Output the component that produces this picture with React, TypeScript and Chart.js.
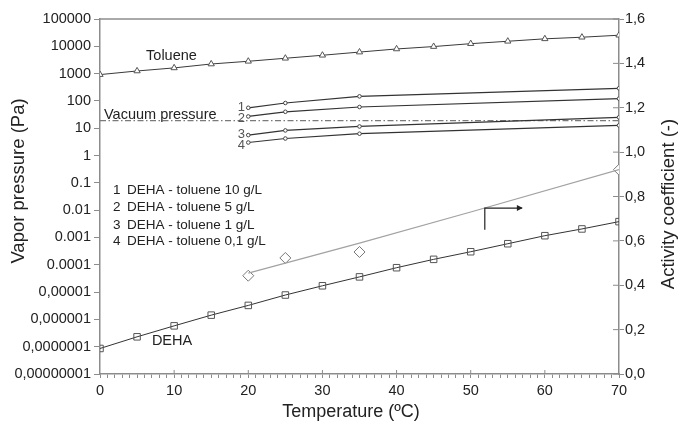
import { useEffect, useRef } from "react";
import { Chart, registerables } from "chart.js";

Chart.register(...registerables);

// ---- data ----
const temps = [0, 5, 10, 15, 20, 25, 30, 35, 40, 45, 50, 55, 60, 65, 70];
const toluenePa = [920, 1250, 1620, 2250, 2830, 3650, 4700, 6150, 8000, 9800, 12500, 15300, 18800, 21500, 25500];
const dehaPa = [8.6e-8, 2.3e-7, 5.8e-7, 1.43e-6, 3.25e-6, 7.8e-6, 1.7e-5, 3.6e-5, 7.8e-5, 1.58e-4, 3.0e-4, 5.9e-4, 1.16e-3, 2.05e-3, 3.8e-3];

const solTemps = [20, 25, 35, 70];
const sol10 = [56, 84, 147, 290];
const sol5 = [27, 40, 60, 121];
const sol1 = [5.6, 8.3, 11.6, 25];
const sol01 = [3.0, 4.2, 6.3, 12.7];

const vacuumTemps = [0, 70];
const vacuumPa = [19, 19];

const gammaTemps = [20, 25, 35, 70];
const gammaDeha = [0.443, 0.523, 0.55, 0.921];
const gammaFitTemps = [20, 35, 50, 70];
const gammaFit = [0.455, 0.59, 0.73, 0.921];

const arrowTemps = [51.9, 51.9, 56.9];
const arrowGamma = [0.65, 0.748, 0.748];

const xTickValues = Array.from({ length: 71 }, (_, i) => i);
const yTickValues = [1e-8, 1e-7, 1e-6, 1e-5, 1e-4, 1e-3, 1e-2, 1e-1, 1, 10, 100, 1000, 10000, 100000];
const yTickLabels = [
  "0,00000001", "0,0000001", "0,000001", "0,00001", "0.0001", "0.001", "0.01", "0.1",
  "1", "10", "100", "1000", "10000", "100000",
];
const y1TickValues = [0, 0.2, 0.4, 0.6, 0.8, 1.0, 1.2, 1.4, 1.6];
const y1TickLabels = ["0,0", "0,2", "0,4", "0,6", "0,8", "1,0", "1,2", "1,4", "1,6"];

const legendNums = ["1", "2", "3", "4"];
const legendTexts = ["DEHA - toluene 10 g/L", "DEHA - toluene 5 g/L", "DEHA - toluene 1 g/L", "DEHA - toluene 0,1 g/L"];
const legendY = [0.0553, 0.0128, 0.00288, 0.000702];
const curveNumY = [60, 22.3, 5.8, 2.34];

const FONT = "'Liberation Sans', Arial, sans-serif";
const AXIS = "#8c8c8c";
const TEXT = "#222";

const pts = (xs: number[], ys: number[]) => xs.map((x, i) => ({ x, y: ys[i] }));

const decorPlugin = {
  id: "decor",
  afterDraw(chart: any) {
    const ctx = chart.ctx as CanvasRenderingContext2D;
    const { left, right, top, bottom } = chart.chartArea;
    const xs = chart.scales.x;
    const ys = chart.scales.y;
    const y1 = chart.scales.y1;
    ctx.save();
    // top border
    ctx.strokeStyle = AXIS;
    ctx.lineWidth = 1.5;
    ctx.beginPath();
    ctx.moveTo(left, top);
    ctx.lineTo(right, top);
    ctx.stroke();
    // inner parts of major ticks
    ctx.lineWidth = 1;
    ctx.beginPath();
    for (let v = 10; v < 70; v += 10) {
      const px = xs.getPixelForValue(v);
      ctx.moveTo(px, bottom);
      ctx.lineTo(px, bottom - 4);
    }
    for (const v of y1TickValues) {
      const py = y1.getPixelForValue(v);
      ctx.moveTo(right, py);
      ctx.lineTo(right - 6, py);
    }
    ctx.stroke();

    // arrow head
    const n = arrowTemps.length - 1;
    const ax = xs.getPixelForValue(arrowTemps[n]);
    const ay = y1.getPixelForValue(arrowGamma[n]);
    ctx.fillStyle = "#222";
    ctx.beginPath();
    ctx.moveTo(ax + 1, ay);
    ctx.lineTo(ax - 5, ay - 3);
    ctx.lineTo(ax - 5, ay + 3);
    ctx.closePath();
    ctx.fill();

    // annotations
    ctx.fillStyle = TEXT;
    ctx.textBaseline = "middle";
    ctx.font = `14.5px ${FONT}`;
    ctx.textAlign = "center";
    ctx.fillText("Toluene", xs.getPixelForValue(9.64), ys.getPixelForValue(4300));
    ctx.textAlign = "left";
    ctx.fillText("Vacuum pressure", xs.getPixelForValue(0.54), ys.getPixelForValue(31));
    ctx.fillText("DEHA", xs.getPixelForValue(7.0), ys.getPixelForValue(1.63e-7));

    ctx.font = `13.5px ${FONT}`;
    legendNums.forEach((num, i) => {
      const py = ys.getPixelForValue(legendY[i]);
      ctx.fillText(num, xs.getPixelForValue(1.75), py);
      ctx.fillText(legendTexts[i], xs.getPixelForValue(3.64), py);
    });

    ctx.fillStyle = "#555";
    ctx.font = `13px ${FONT}`;
    ctx.textAlign = "right";
    legendNums.forEach((num, i) => {
      ctx.fillText(num, xs.getPixelForValue(19.56), ys.getPixelForValue(curveNumY[i]));
    });

    // axis titles
    ctx.fillStyle = TEXT;
    ctx.textAlign = "center";
    ctx.font = `18px ${FONT}`;
    ctx.fillText("Temperature (ºC)", 351, 412);
    ctx.font = `18.5px ${FONT}`;
    ctx.save();
    ctx.translate(19, 181);
    ctx.rotate(-Math.PI / 2);
    ctx.fillText("Vapor pressure (Pa)", 0, 0);
    ctx.restore();
    ctx.save();
    ctx.translate(669, 204);
    ctx.rotate(-Math.PI / 2);
    ctx.fillText("Activity coefficient (-)", 0, 0);
    ctx.restore();

    ctx.restore();
  },
};

export default function App() {
  const ref = useRef<HTMLCanvasElement>(null);

  useEffect(() => {
    const tickFont = { family: FONT, size: 14.5 };
    const line = (data: any, color: string, width: number, extra: any = {}) => ({
      data,
      showLine: true,
      borderColor: color,
      borderWidth: width,
      tension: 0,
      pointRadius: 0,
      yAxisID: "y",
      ...extra,
    });
    const chart = new Chart(ref.current!, {
      type: "scatter",
      data: {
        datasets: [
          line(pts(arrowTemps, arrowGamma), "#222", 1.2, { yAxisID: "y1" }),
          line(pts(temps, toluenePa), "#3a3a3a", 1, {
            pointRadius: 3.6,
            pointStyle: "triangle",
            pointBorderColor: "#555",
            pointBackgroundColor: "#fff",
            pointBorderWidth: 1,
          }),
          ...[sol10, sol5, sol1, sol01].map((s) =>
            line(pts(solTemps, s), "#333", 1.2, {
              pointRadius: 1.8,
              pointStyle: "circle",
              pointBorderColor: "#444",
              pointBackgroundColor: "#fff",
              pointBorderWidth: 1,
            })
          ),
          line(pts(vacuumTemps, vacuumPa), "#7a7a7a", 1.3, { borderDash: [6, 2.5, 1.5, 2.5] }),
          line(pts(temps, dehaPa), "#333", 1, {
            pointRadius: 4.6,
            pointStyle: "rect",
            pointBorderColor: "#555",
            pointBackgroundColor: "rgba(255,255,255,0)",
            pointBorderWidth: 1,
          }),
          line(pts(gammaFitTemps, gammaFit), "#a2a2a2", 1.2, { yAxisID: "y1" }),
          {
            data: pts(gammaTemps, gammaDeha),
            showLine: false,
            yAxisID: "y1",
            pointStyle: "rectRot",
            pointRadius: 5.5,
            pointBorderColor: "#777",
            pointBackgroundColor: "#fff",
            pointBorderWidth: 1,
          },
        ],
      },
      options: {
        responsive: false,
        animation: false,
        layout: { padding: { top: 19, left: 0, right: 0, bottom: 0 } },
        plugins: { legend: { display: false }, tooltip: { enabled: false } },
        scales: {
          x: {
            type: "linear",
            min: 0,
            max: 70,
            afterBuildTicks: (s: any) => {
              s.ticks = xTickValues.map((v) => ({ value: v }));
            },
            afterFit: (s: any) => {
              s.height = 47;
            },
            ticks: {
              autoSkip: false,
              maxRotation: 0,
              padding: 4,
              color: TEXT,
              font: tickFont,
              callback: (v: any) => (Number(v) % 10 === 0 ? String(v) : ""),
            },
            grid: { drawOnChartArea: false, drawTicks: true, tickLength: 4, color: AXIS, tickWidth: 1 },
            border: { color: AXIS, width: 1.5 },
          },
          y: {
            type: "logarithmic",
            position: "left",
            min: 1e-8,
            max: 1e5,
            afterBuildTicks: (s: any) => {
              s.ticks = yTickValues.map((v) => ({ value: v }));
            },
            afterFit: (s: any) => {
              s.width = 100;
            },
            ticks: {
              autoSkip: false,
              padding: 3,
              color: TEXT,
              font: tickFont,
              callback: (v: any) => {
                const i = yTickValues.findIndex((t) => Math.abs(Math.log10(t) - Math.log10(Number(v))) < 1e-6);
                return i >= 0 ? yTickLabels[i] : "";
              },
            },
            grid: { drawOnChartArea: false, drawTicks: true, tickLength: 6, color: AXIS, tickWidth: 1 },
            border: { color: AXIS, width: 1.5 },
          },
          y1: {
            type: "linear",
            position: "right",
            min: 0,
            max: 1.6,
            afterBuildTicks: (s: any) => {
              s.ticks = y1TickValues.map((v) => ({ value: v }));
            },
            afterFit: (s: any) => {
              s.width = 62;
            },
            ticks: {
              autoSkip: false,
              padding: 1,
              color: TEXT,
              font: tickFont,
              callback: (v: any) => {
                const i = y1TickValues.findIndex((t) => Math.abs(t - Number(v)) < 1e-6);
                return i >= 0 ? y1TickLabels[i] : "";
              },
            },
            grid: { drawOnChartArea: false, drawTicks: true, tickLength: 5, color: AXIS, tickWidth: 1 },
            border: { color: AXIS, width: 1.5 },
          },
        },
      } as any,
      plugins: [decorPlugin],
    });
    return () => chart.destroy();
  }, []);

  return (
    <div style={{ position: "absolute", left: 0, top: 0, width: 681, height: 421, background: "#fff" }}>
      <canvas ref={ref} width={681} height={421} style={{ width: 681, height: 421, display: "block" }} />
    </div>
  );
}
